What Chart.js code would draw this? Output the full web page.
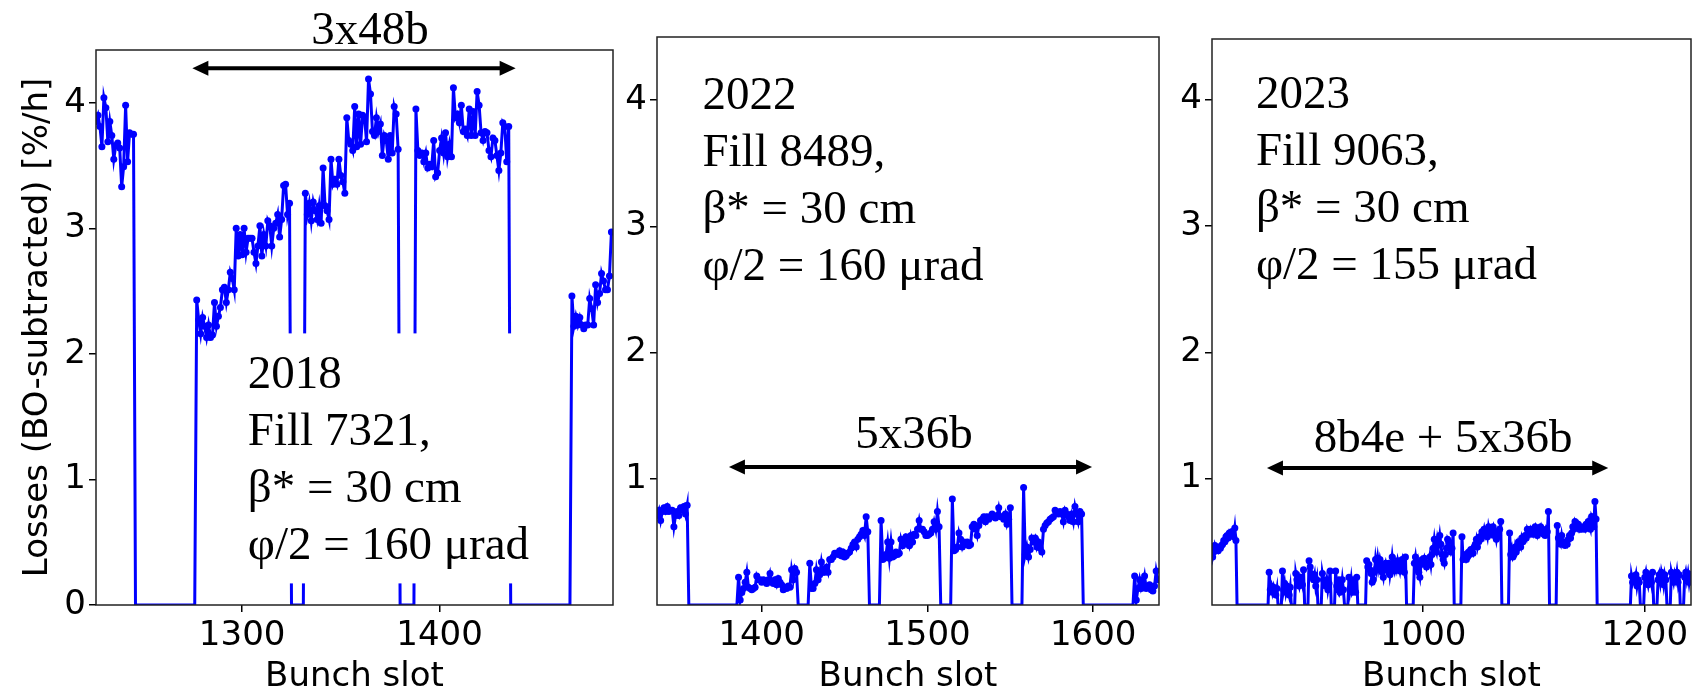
<!DOCTYPE html>
<html>
<head>
<meta charset="utf-8">
<script src="https://cdn.jsdelivr.net/npm/chart.js@4.4.1/dist/chart.umd.min.js"></script>
<style>
  html, body { margin: 0; padding: 0; background: #fff; }
  body { width: 1697px; height: 689px; position: relative; overflow: hidden; }
  canvas { position: absolute; top: 0; }
</style>
</head>
<body>
<canvas id="c2018" width="640" height="689" style="left:0px"></canvas>
<canvas id="c2022" width="560" height="689" style="left:615px"></canvas>
<canvas id="c2023" width="527" height="689" style="left:1170px"></canvas>
<script>
// losses per bunch slot [%/h], one array per stretch of filled slots
// empty slots between stretches are drawn at 0

// 2018 - fill 7321
const starts2018 = [1226, 1277, 1332, 1388, 1467];
const edgeL2018 = [3.85, 3.90, 3.81, 3.65, 4.04, 3.96, 3.69, 3.85, 3.74, 3.55, 3.66, 3.68, 3.64, 3.33, 3.49, 3.98, 3.53, 3.76, 3.75, 3.75];
const trainA2018 = [2.43, 2.27, 2.16, 2.29, 2.22, 2.13, 2.23, 2.13, 2.15, 2.41, 2.22, 2.30, 2.37, 2.51, 2.53, 2.41, 2.51, 2.65, 2.60, 2.51,
  3.00, 2.78, 2.95, 2.79, 3.00, 2.81, 2.92, 2.92, 2.92, 2.81, 2.72, 2.86, 3.02, 2.78, 2.95, 2.86, 3.06, 3.02, 2.86, 3.00,
  3.04, 3.11, 2.93, 3.07, 3.34, 3.35, 3.11, 3.20];
const trainB2018 = [3.28, 3.11, 3.20, 3.06, 3.21, 3.14, 3.07, 3.18, 3.04, 3.48, 3.18, 3.14, 3.07, 3.55, 3.35, 3.39, 3.35, 3.55, 3.42, 3.37,
  3.28, 3.88, 3.70, 3.67, 3.62, 3.97, 3.65, 3.91, 3.67, 3.90, 3.88, 3.69, 4.19, 4.07, 3.77, 3.74, 3.88, 3.77, 3.83, 3.58,
  3.74, 3.70, 3.55, 3.74, 3.60, 3.97, 3.91, 3.63];
const trainC2018 = [3.95, 3.62, 3.58, 3.60, 3.53, 3.60, 3.48, 3.51, 3.49, 3.70, 3.41, 3.44, 3.62, 3.72, 3.60, 3.76, 3.57, 3.67, 3.57, 4.12,
  3.88, 3.91, 3.84, 3.98, 3.77, 3.79, 3.74, 3.95, 3.74, 3.93, 3.74, 4.09, 3.98, 3.76, 3.70, 3.77, 3.76, 3.62, 3.57, 3.72,
  3.70, 3.58, 3.46, 3.60, 3.84, 3.81, 3.53, 3.81];
const edgeR2018 = [2.46, 2.22, 2.30, 2.23, 2.29, 2.23, 2.20, 2.23, 2.23, 2.44, 2.36, 2.23, 2.55, 2.41, 2.48, 2.64, 2.58, 2.51, 2.51, 2.62, 2.97];

// 2022 - fill 8489
const starts2022 = [1337, 1386, 1429, 1472, 1515, 1558, 1625];
const edgeL2022 = [0.71, 0.75, 0.67, 0.74, 0.77, 0.74, 0.78, 0.74, 0.75, 0.75, 0.62, 0.71, 0.74, 0.71, 0.77, 0.75, 0.78, 0.72, 0.79];
const train1_2022 = [0.22, 0.04, 0.10, 0.13, 0.18, 0.26, 0.14, 0.13, 0.12, 0.13, 0.14, 0.23, 0.20, 0.20, 0.18, 0.20, 0.19, 0.17,
  0.20, 0.25, 0.18, 0.17, 0.20, 0.16, 0.21, 0.18, 0.16, 0.12, 0.14, 0.13, 0.15, 0.14, 0.28, 0.20, 0.29, 0.26];
const train2_2022 = [0.33, 0.13, 0.13, 0.17, 0.28, 0.20, 0.24, 0.34, 0.26, 0.26, 0.30, 0.26, 0.36, 0.36, 0.38, 0.41, 0.41, 0.40,
  0.43, 0.39, 0.42, 0.38, 0.39, 0.41, 0.42, 0.45, 0.48, 0.50, 0.46, 0.52, 0.54, 0.56, 0.59, 0.55, 0.70, 0.58];
const train3_2022 = [0.67, 0.36, 0.37, 0.40, 0.50, 0.37, 0.50, 0.38, 0.39, 0.42, 0.40, 0.41, 0.52, 0.47, 0.50, 0.54, 0.51, 0.47,
  0.55, 0.50, 0.56, 0.55, 0.60, 0.67, 0.60, 0.60, 0.58, 0.55, 0.55, 0.56, 0.57, 0.60, 0.66, 0.60, 0.74, 0.62];
const train4_2022 = [0.84, 0.43, 0.44, 0.46, 0.57, 0.52, 0.46, 0.50, 0.48, 0.50, 0.47, 0.48, 0.62, 0.64, 0.60, 0.55, 0.63, 0.67,
  0.68, 0.70, 0.66, 0.70, 0.68, 0.70, 0.72, 0.70, 0.69, 0.71, 0.77, 0.70, 0.70, 0.68, 0.72, 0.64, 0.68, 0.77];
const train5_2022 = [0.93, 0.40, 0.46, 0.38, 0.44, 0.53, 0.50, 0.53, 0.46, 0.50, 0.45, 0.42, 0.60, 0.63, 0.65, 0.66, 0.68, 0.69,
  0.70, 0.75, 0.73, 0.72, 0.74, 0.72, 0.66, 0.75, 0.72, 0.70, 0.67, 0.72, 0.66, 0.78, 0.72, 0.66, 0.74, 0.72];
const edgeR2022 = [0.23, 0.04, 0.13, 0.20, 0.13, 0.16, 0.23, 0.13, 0.14, 0.16, 0.12, 0.11, 0.15, 0.27, 0.20];

// 2023 - fill 9063 (8b4e part keeps its empty slots as 0)
const starts2023 = [808, 861, 949, 992, 1035, 1078, 1121, 1188];
const edgeL2023 = [0.50, 0.45, 0.38, 0.42, 0.47, 0.44, 0.45, 0.43, 0.46, 0.45, 0.47, 0.48, 0.51, 0.50, 0.54, 0.55, 0.53, 0.57,
  0.55, 0.58, 0.56, 0.54, 0.61, 0.51];
const mix8b4e2023 = [0.26, 0.12, 0.15, 0.10, 0.14, 0.10, 0.08, 0.13, 0, 0, 0, 0,
  0.27, 0.12, 0.17, 0.10, 0.15, 0.12, 0.08, 0.14, 0, 0, 0, 0,
  0.25, 0.20, 0.18, 0.15, 0.22, 0.20, 0.16, 0.28, 0, 0, 0, 0,
  0.35, 0.30, 0.25, 0.22, 0.20, 0.24, 0.15, 0.20, 0, 0, 0, 0,
  0.25, 0.20, 0.18, 0.15, 0.20, 0.12, 0.17, 0.27, 0, 0, 0, 0,
  0.27, 0.15, 0.12, 0.20, 0.10, 0.12, 0.20, 0.12, 0, 0, 0, 0,
  0.22, 0.13, 0.20, 0.10, 0.12, 0.20, 0.10, 0.22];
const train1_2023 = [0.35, 0.30, 0.32, 0.28, 0.25, 0.18, 0.20, 0.26, 0.36, 0.29, 0.37, 0.30, 0.36, 0.32, 0.26, 0.22, 0.30, 0.33,
  0.28, 0.32, 0.33, 0.24, 0.30, 0.38, 0.30, 0.27, 0.33, 0.29, 0.35, 0.31, 0.27, 0.33, 0.36, 0.30, 0.26, 0.38];
const train2_2023 = [0.33, 0.38, 0.30, 0.34, 0.26, 0.22, 0.32, 0.36, 0.34, 0.37, 0.33, 0.30, 0.33, 0.32, 0.38, 0.32, 0.40, 0.45,
  0.52, 0.45, 0.42, 0.52, 0.48, 0.55, 0.48, 0.40, 0.36, 0.33, 0.40, 0.45, 0.52, 0.50, 0.45, 0.42, 0.45, 0.57];
const train3_2023 = [0.54, 0.36, 0.38, 0.40, 0.36, 0.38, 0.42, 0.40, 0.44, 0.43, 0.41, 0.46, 0.48, 0.52, 0.46, 0.50, 0.54, 0.52,
  0.58, 0.56, 0.60, 0.55, 0.58, 0.54, 0.62, 0.58, 0.56, 0.60, 0.62, 0.55, 0.57, 0.52, 0.58, 0.55, 0.60, 0.66];
const train4_2023 = [0.57, 0.40, 0.44, 0.38, 0.40, 0.46, 0.42, 0.45, 0.50, 0.48, 0.46, 0.53, 0.50, 0.52, 0.55, 0.53, 0.60, 0.58,
  0.56, 0.60, 0.58, 0.56, 0.60, 0.62, 0.58, 0.55, 0.58, 0.60, 0.62, 0.57, 0.58, 0.56, 0.55, 0.60, 0.58, 0.74];
const train5_2023 = [0.63, 0.53, 0.50, 0.48, 0.55, 0.50, 0.48, 0.47, 0.50, 0.48, 0.52, 0.55, 0.53, 0.57, 0.62, 0.60, 0.66, 0.64,
  0.62, 0.64, 0.60, 0.62, 0.60, 0.61, 0.62, 0.60, 0.64, 0.62, 0.66, 0.63, 0.60, 0.70, 0.68, 0.62, 0.82, 0.68];
const edgeR2023 = [0.23, 0.18, 0.22, 0.20, 0.24, 0.15, 0.20, 0.18, 0, 0, 0, 0,
  0.22, 0.26, 0.20, 0.16, 0.22, 0.24, 0.18, 0.26, 0, 0, 0, 0,
  0.20, 0.24, 0.18, 0.26, 0.22, 0.16, 0.24, 0.20, 0, 0, 0, 0,
  0.26, 0.22, 0.18, 0.24, 0.20, 0.26, 0.18, 0.24, 0, 0, 0, 0,
  0.22, 0.26, 0.20, 0.25, 0.18, 0.24];

// tick values
const xTicks2018 = [1300, 1400];
const xTicks2022 = [1400, 1500, 1600];
const xTicks2023 = [1000, 1200];
const yTicks2018 = [0, 1, 2, 3, 4];
const yTicksRun3 = [1, 2, 3, 4];

const blue = '#0000ff';
const sans = 'DejaVu Sans';
const serif = 'Liberation Serif';

// stretches -> {x, y}; the empty slots between two stretches go to 0
function buildPoints(starts, segs) {
    const pts = [];
    segs.forEach((vals, k) => {
        const s0 = starts[k];
        if (k > 0) pts.push({ x: s0 - 1, y: 0 });
        vals.forEach((v, i) => pts.push({ x: s0 + i, y: v }));
        if (k < segs.length - 1) pts.push({ x: s0 + vals.length, y: 0 });
    });
    return pts;
}

// frame, text block, arrow and axis titles
const notesPlugin = {
    id: 'notes',
    afterDatasetsDraw(chart, args, o) {
        const { ctx, chartArea: a, scales: { x, y } } = chart;
        ctx.save();

        ctx.font = `47px "${serif}"`;
        const left = x.getPixelForValue(o.textAt[0]);
        const base = y.getPixelForValue(o.textAt[1]);
        const gap = 57;
        if (o.whiteBox) {
            const w = Math.max(...o.lines.map(t => ctx.measureText(t).width));
            ctx.fillStyle = '#fff';
            ctx.fillRect(left - 10, base - 55, w + 20, gap * (o.lines.length - 1) + 79);
        }
        ctx.fillStyle = '#000';
        ctx.textBaseline = 'alphabetic';
        ctx.textAlign = 'left';
        o.lines.forEach((t, i) => ctx.fillText(t, left, base + i * gap));

        // span label + double arrow
        ctx.textAlign = 'center';
        ctx.fillText(o.span, x.getPixelForValue(o.spanAt[0]), y.getPixelForValue(o.spanAt[1]));
        const x1 = x.getPixelForValue(o.arrow[0]), x2 = x.getPixelForValue(o.arrow[1]);
        const ya = y.getPixelForValue(o.arrow[2]);
        const hl = 16, hw = 7.5;
        ctx.strokeStyle = '#000';
        ctx.lineWidth = 4;
        ctx.beginPath(); ctx.moveTo(x1 + hl - 2, ya); ctx.lineTo(x2 - hl + 2, ya); ctx.stroke();
        ctx.beginPath();
        ctx.moveTo(x1, ya); ctx.lineTo(x1 + hl, ya - hw); ctx.lineTo(x1 + hl, ya + hw); ctx.closePath();
        ctx.moveTo(x2, ya); ctx.lineTo(x2 - hl, ya - hw); ctx.lineTo(x2 - hl, ya + hw); ctx.closePath();
        ctx.fill();

        // frame
        ctx.strokeStyle = '#222';
        ctx.lineWidth = 1.5;
        ctx.strokeRect(a.left, a.top, a.right - a.left, a.bottom - a.top);

        // axis titles
        ctx.font = `34px "${sans}"`;
        ctx.textAlign = 'center';
        ctx.fillText('Bunch slot', (a.left + a.right) / 2, 686);
        if (o.yTitle) {
            ctx.translate(46.5, (a.top + a.bottom) / 2);
            ctx.rotate(-Math.PI / 2);
            ctx.fillText(o.yTitle, 0, 0);
        }
        ctx.restore();
    }
};

function makeChart(id, points, cfg) {
    const tickFont = { family: sans, size: 34 };
    return new Chart(document.getElementById(id), {
        type: 'line',
        data: {
            datasets: [{
                data: points,
                borderColor: blue,
                backgroundColor: blue,
                borderWidth: 3,
                pointRadius: c => (c.raw && c.raw.y > 0 ? 3.5 : 0),
                pointBorderWidth: 0,
                pointBackgroundColor: blue,
                tension: 0,
                clip: 0
            }]
        },
        options: {
            responsive: false,
            animation: false,
            events: [],
            layout: { padding: { top: cfg.top, right: cfg.right, left: 0, bottom: 0 } },
            plugins: { legend: { display: false }, tooltip: { enabled: false }, notes: cfg.notes },
            scales: {
                x: {
                    type: 'linear',
                    min: cfg.xRange[0], max: cfg.xRange[1],
                    afterBuildTicks: s => { s.ticks = cfg.xTicks.map(v => ({ value: v })); },
                    afterFit: s => { s.height = 84; },
                    grid: { drawOnChartArea: false, drawTicks: true, tickLength: 7, color: '#000', lineWidth: 1.5 },
                    border: { display: false },
                    ticks: { font: tickFont, color: '#000', padding: 4, maxRotation: 0, autoSkip: false,
                             callback: v => String(v) }
                },
                y: {
                    min: 0, max: cfg.yMax,
                    afterBuildTicks: s => { s.ticks = cfg.yTicks.map(v => ({ value: v })); },
                    afterFit: s => { s.width = cfg.yWidth; },
                    grid: { drawOnChartArea: false, drawTicks: true, tickLength: 7, color: '#000', lineWidth: 1.5 },
                    border: { display: false },
                    ticks: { font: tickFont, color: '#000', padding: 3, callback: v => String(v) }
                }
            }
        },
        plugins: [notesPlugin]
    });
}

makeChart('c2018', buildPoints(starts2018, [edgeL2018, trainA2018, trainB2018, trainC2018, edgeR2018]), {
    top: 50, right: 27, yWidth: 96, yMax: 4.42,
    xRange: [1226, 1487.8], xTicks: xTicks2018, yTicks: yTicks2018,
    notes: {
        lines: ['2018', 'Fill 7321,', 'β* = 30 cm', 'φ/2 = 160 μrad'],
        textAt: [1302.9, 1.725], whiteBox: true,
        span: '3x48b', spanAt: [1364.7, 4.47], arrow: [1274.8, 1438.5, 4.275],
        yTitle: 'Losses (BO-subtracted) [%/h]'
    }
});

makeChart('c2022', buildPoints(starts2022, [edgeL2022, train1_2022, train2_2022, train3_2022, train4_2022, train5_2022, edgeR2022]), {
    top: 37, right: 16, yWidth: 42, yMax: 4.5,
    xRange: [1336.8, 1639.7], xTicks: xTicks2022, yTicks: yTicksRun3,
    notes: {
        lines: ['2022', 'Fill 8489,', 'β* = 30 cm', 'φ/2 = 160 μrad'],
        textAt: [1364.2, 3.927],
        span: '5x36b', spanAt: [1491.9, 1.243], arrow: [1380.2, 1599.3, 1.093]
    }
});

makeChart('c2023', buildPoints(starts2023, [edgeL2023, mix8b4e2023, train1_2023, train2_2023, train3_2023, train4_2023, train5_2023, edgeR2023]), {
    top: 39, right: 6, yWidth: 42, yMax: 4.48,
    xRange: [809.4, 1241.7], xTicks: xTicks2023, yTicks: yTicksRun3,
    notes: {
        lines: ['2023', 'Fill 9063,', 'β* = 30 cm', 'φ/2 = 155 μrad'],
        textAt: [849, 3.93],
        span: '8b4e + 5x36b', spanAt: [1018, 1.21], arrow: [859, 1167, 1.084]
    }
});
</script>
</body>
</html>
